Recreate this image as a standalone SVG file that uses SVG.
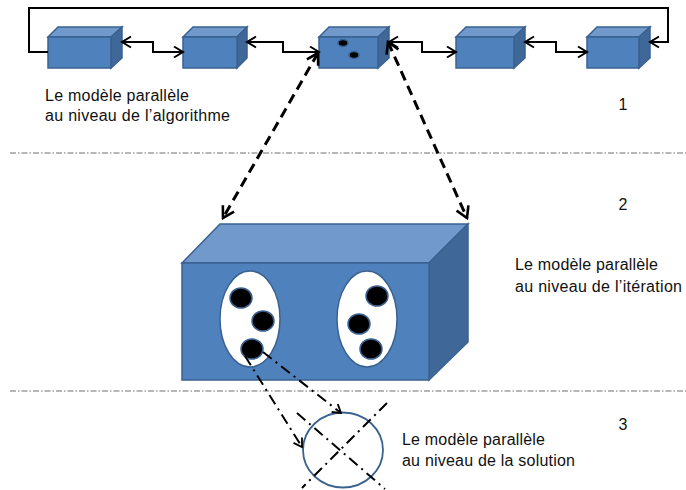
<svg xmlns="http://www.w3.org/2000/svg" width="686" height="490" viewBox="0 0 686 490">
<style>
.front{fill:#4F81BD;stroke:#3A6290;stroke-width:1.5}
.top{fill:#7299CB;stroke:#3A6290;stroke-width:1.5}
.side{fill:#3F6899;stroke:#3A6290;stroke-width:1.5}
.dot{fill:#000;stroke:#3A6290;stroke-width:1.5}
.conn{fill:none;stroke:#000;stroke-width:2}
.dash{fill:none;stroke:#000;stroke-width:3;stroke-dasharray:10 6}
.dd{fill:none;stroke:#000;stroke-width:2;stroke-dasharray:11 5 2 5}
.div{fill:none;stroke:#707070;stroke-width:1.2;stroke-dasharray:6 2 1.5 2}
text{font-family:"Liberation Sans",Arial,sans-serif;font-size:16px;fill:#111}
</style>
<defs>
<marker id="ah" markerUnits="userSpaceOnUse" viewBox="-11 -7 13 14" markerWidth="13" markerHeight="14" refX="0" refY="0" orient="auto-start-reverse">
<path d="M-9,-5.5 L0,0 L-9,5.5" fill="none" stroke="#000" stroke-width="2"/>
</marker>
<marker id="ahd" markerUnits="userSpaceOnUse" viewBox="-13 -8 15 16" markerWidth="15" markerHeight="16" refX="0" refY="0" orient="auto-start-reverse">
<path d="M-11,-6.5 L0,0 L-11,6.5" fill="none" stroke="#000" stroke-width="2.6"/>
</marker>
<marker id="ahs" markerUnits="userSpaceOnUse" viewBox="-11 -7 13 14" markerWidth="13" markerHeight="14" refX="0" refY="0" orient="auto">
<path d="M-8,-5 L0,0 L-8,5" fill="none" stroke="#000" stroke-width="1.8"/>
</marker>
</defs>

<g id="dividers">
<line class="div" x1="10" y1="153" x2="686" y2="153"/>
<line class="div" x1="10" y1="391" x2="686" y2="391"/>
</g>

<g id="box1">
<polygon class="top" points="48,37 58,27 122,27 111,37"/>
<polygon class="side" points="111,37 122,27 122,58 111,68"/>
<rect class="front" x="48" y="37" width="63" height="31"/>
</g>
<g id="box2">
<polygon class="top" points="183,37 193,27 247,27 237,37"/>
<polygon class="side" points="237,37 247,27 247,58 237,68"/>
<rect class="front" x="183" y="37" width="54" height="31"/>
</g>
<g id="box3">
<polygon class="top" points="319,37 329,27 389,27 378,37"/>
<polygon class="side" points="378,37 389,27 389,58 378,68"/>
<rect class="front" x="319" y="37" width="59" height="31"/>
<ellipse class="dot" cx="343" cy="43" rx="5" ry="3.5"/>
<ellipse class="dot" cx="354" cy="55" rx="5" ry="3.5"/>
</g>
<g id="box4">
<polygon class="top" points="456,37 466,27 525,27 514,37"/>
<polygon class="side" points="514,37 525,27 525,58 514,68"/>
<rect class="front" x="456" y="37" width="58" height="31"/>
</g>
<g id="box5">
<polygon class="top" points="587,37 597,27 650,27 639,37"/>
<polygon class="side" points="639,37 650,27 650,58 639,68"/>
<rect class="front" x="587" y="37" width="52" height="31"/>
</g>

<g id="bigbox">
<polygon class="top" points="182,263 220,224 468,224 429,263"/>
<polygon class="side" points="429,263 468,224 468,342 429,380"/>
<rect class="front" x="182" y="263" width="247" height="117"/>
<ellipse cx="250" cy="319" rx="30" ry="48" fill="#fff" stroke="#3A6290" stroke-width="1.5"/>
<ellipse cx="367" cy="319" rx="30" ry="48" fill="#fff" stroke="#3A6290" stroke-width="1.5"/>
<ellipse class="dot" cx="241" cy="298" rx="11" ry="10"/>
<ellipse class="dot" cx="263" cy="321" rx="11" ry="10"/>
<ellipse class="dot" cx="252" cy="349" rx="11" ry="10"/>
<ellipse class="dot" cx="377" cy="296" rx="11" ry="10"/>
<ellipse class="dot" cx="359" cy="324" rx="11" ry="10"/>
<ellipse class="dot" cx="371" cy="349" rx="11" ry="10"/>
</g>

<g id="solution">
<ellipse cx="343" cy="450" rx="40" ry="37.5" fill="#fff" stroke="#3A6290" stroke-width="1.8"/>
</g>

<g id="connectors">
<path class="conn" d="M48,52 H29 V8 H668 V42 H650" marker-end="url(#ah)"/>
<path class="conn" d="M122,42 H153 V52 H183" marker-start="url(#ah)" marker-end="url(#ah)"/>
<path class="conn" d="M247,42 H283 V52 H319" marker-start="url(#ah)" marker-end="url(#ah)"/>
<path class="conn" d="M389,42 H422 V52 H456" marker-start="url(#ah)" marker-end="url(#ah)"/>
<path class="conn" d="M525,42 H556 V52 H587" marker-start="url(#ah)" marker-end="url(#ah)"/>
<line class="dash" x1="318" y1="53" x2="223" y2="218" marker-start="url(#ahd)" marker-end="url(#ahd)"/>
<line class="dash" x1="388" y1="42" x2="467" y2="218" marker-start="url(#ahd)" marker-end="url(#ahd)"/>
<line class="dd" x1="245" y1="356" x2="302" y2="447" marker-end="url(#ahs)"/>
<line class="dd" x1="263" y1="352" x2="341" y2="413" marker-end="url(#ahs)"/>
<line class="dd" x1="387" y1="403" x2="302" y2="488"/>
<line class="dd" x1="297" y1="413" x2="385" y2="489"/>
</g>

<g id="labels">
<text x="45" y="101" textLength="144" lengthAdjust="spacing">Le modèle parallèle</text>
<text x="45" y="121" textLength="185" lengthAdjust="spacing">au niveau de l’algorithme</text>
<text x="515" y="270" textLength="143" lengthAdjust="spacing">Le modèle parallèle</text>
<text x="515" y="292" textLength="167" lengthAdjust="spacing">au niveau de l’itération</text>
<text x="402" y="445" textLength="143" lengthAdjust="spacing">Le modèle parallèle</text>
<text x="402" y="466" textLength="173" lengthAdjust="spacing">au niveau de la solution</text>
<text x="623" y="110" text-anchor="middle">1</text>
<text x="623" y="210" text-anchor="middle">2</text>
<text x="623" y="430" text-anchor="middle">3</text>
</g>
</svg>
